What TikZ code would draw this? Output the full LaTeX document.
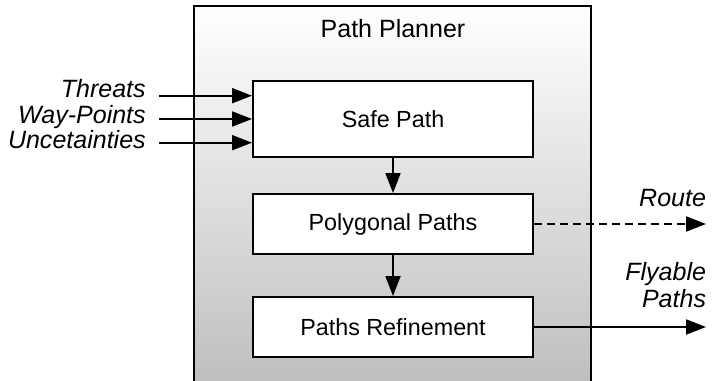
\documentclass[tikz,border=0pt]{standalone}
\usepackage{fontspec}
\setmainfont{Liberation Sans}
\usetikzlibrary{arrows.meta, positioning}

\begin{document}
\begin{tikzpicture}[line width=1.4pt,
  box/.style={draw, fill=white, minimum width=7cm, minimum height=1.5cm, inner sep=0pt, font=\fontsize{16.6}{20}\selectfont},
  arr/.style={-{Triangle[length=0.5cm,width=0.375cm]}},
  lbl/.style={font=\fontsize{17.8}{19.6}\selectfont\itshape, inner sep=0pt, anchor=base east}]
\useasboundingbox (0,0) rectangle (17.8,9.525);
% --- outer block, open at the bottom ---
\fill[top color=white, bottom color=gray!50] (4.85,0) rectangle (14.775,9.375);
\draw (4.85,0) -- (4.85,9.375) -- (14.775,9.375) -- (14.775,0);
\node[anchor=base, inner sep=0pt, font=\fontsize{17.8}{20}\selectfont] (title) at (9.825,8.583) {Path Planner};
% --- the three stages ---
\node[box, minimum height=1.9cm] (safe) at (9.825,6.55) {Safe Path};
\node[box] (poly) at (9.825,3.925) {Polygonal Paths};
\node[box] (refine) at (9.825,1.35) {Paths Refinement};
\draw[arr] (safe) -- (poly);
\draw[arr] (poly) -- (refine);
% --- inputs on the left ---
\node[lbl] (threats) at (3.6675,7.075) {Threats};
\node[lbl] (waypts) at (3.6675,6.4375) {Way-Points};
\node[lbl] (uncert) at (3.6675,5.8) {Uncetainties};
\coordinate (in1) at (3.975,7.1325);
\coordinate (in2) at (3.975,6.55);
\coordinate (in3) at (3.975,5.9575);
\draw[arr] (in1) -- (in1 -| safe.west);
\draw[arr] (in2) -- (in2 -| safe.west);
\draw[arr] (in3) -- (in3 -| safe.west);
% --- outputs on the right ---
\coordinate (routeend) at (17.65,3.925);
\coordinate (flyend) at (17.65,1.35);
\draw[arr, dash pattern=on 0.2cm off 0.125cm] (poly.east) -- (routeend);
\draw[arr] (refine.east) -- (flyend);
\node[lbl] (route) at (17.675,4.3575) {Route};
\node[lbl, align=right] (flyable) at (17.675,1.825) {Flyable\\Paths};
\end{tikzpicture}
\end{document}
